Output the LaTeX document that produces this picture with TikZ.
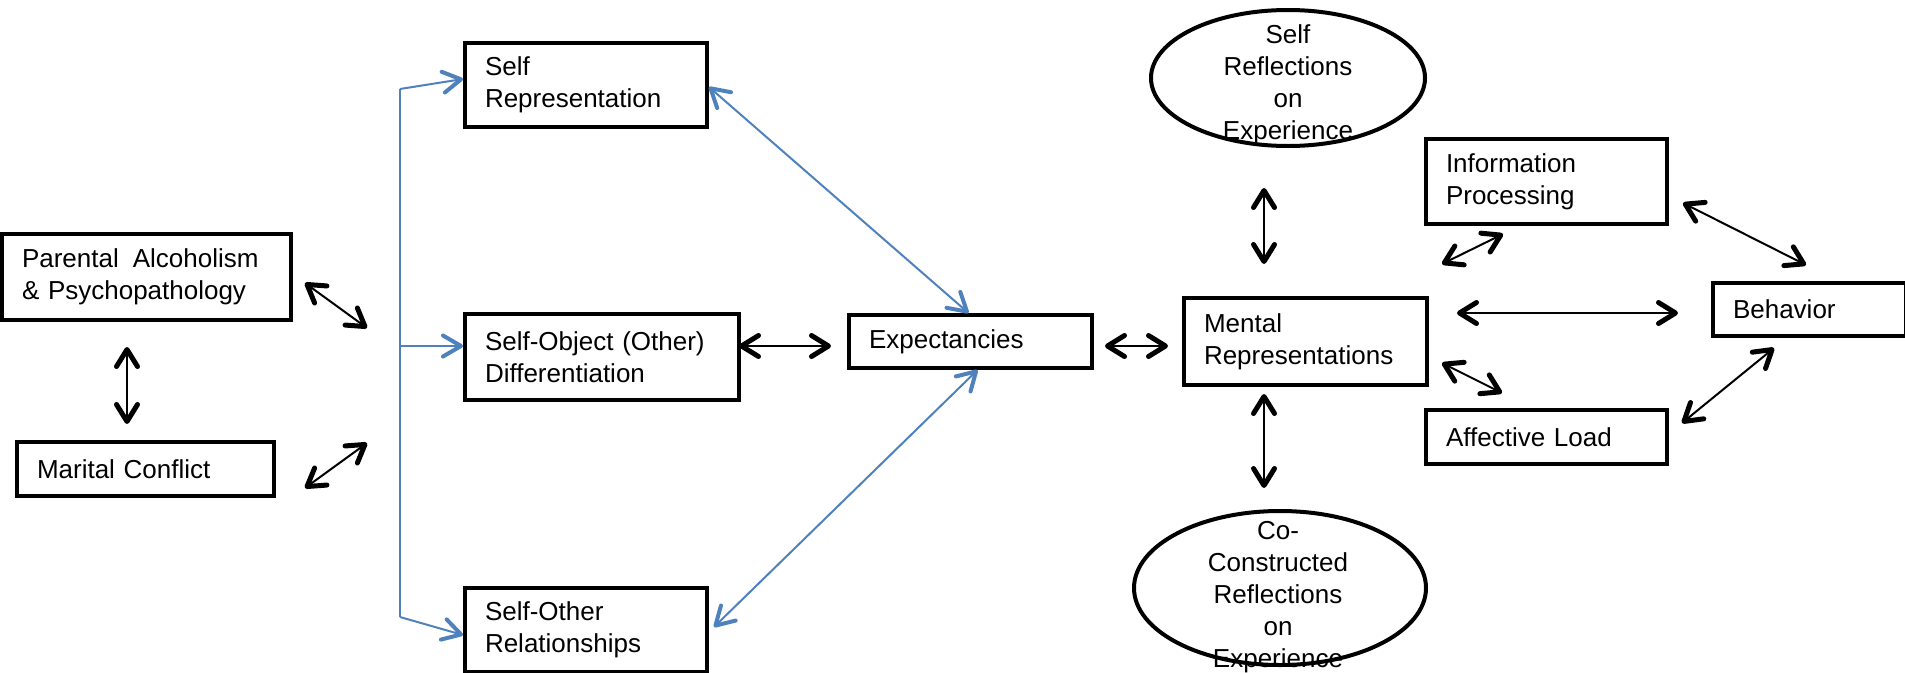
\documentclass[tikz,border=0pt]{standalone}
\usepackage{fontspec}
\setmainfont{Liberation Sans}
\usetikzlibrary{arrows.meta,shapes.geometric}
\definecolor{linkblue}{RGB}{79,129,189}
\begin{document}
\begin{tikzpicture}[x=1pt,y=-1pt,
  every node/.style={font=\fontsize{26}{32}\selectfont},
  box/.style={draw, line width=4pt, rectangle, anchor=north west,
    inner xsep=20pt, inner ysep=0pt, align=left},
  oval/.style={draw, line width=4pt, ellipse, inner sep=0pt},
  ovaltext/.style={align=center, inner sep=0pt},
  bkb/.tip={Straight Barb[length=17pt,width=21pt,line width=5pt,round]},
  blb/.tip={Straight Barb[length=18pt,width=21pt,line width=4pt,round]},
  dbl/.style={line width=2pt, bkb-bkb},
  blue line/.style={draw=linkblue, line width=2pt},
  blue arrow/.style={blue line, -blb},
  blue dbl/.style={blue line, blb-blb}]
\useasboundingbox (0,0) rectangle (1905,672);

% boxes
\node[box, minimum width=289pt, minimum height=86pt, text width=249pt] (pa) at (0,232)
  {Parental\hspace{14pt}Alcoholism\\\& Psychopathology};
\node[box, minimum width=257pt, minimum height=54pt, text width=217pt] (mc) at (15,440)
  {Marital Conflict};
\node[box, minimum width=242pt, minimum height=84pt, text width=202pt] (srep) at (463,41)
  {Self\\Representation};
\node[box, minimum width=274pt, minimum height=86pt, text width=234pt] (sobj) at (463,312)
  {Self-Object (Other)\\Differentiation};
\node[box, minimum width=242pt, minimum height=84pt, text width=202pt] (soth) at (463,586)
  {Self-Other\\Relationships};
\node[box, minimum width=243pt, minimum height=53pt, text width=203pt] (exp) at (847,313)
  {Expectancies};
\node[box, minimum width=243pt, minimum height=87pt, text width=203pt] (mrep) at (1182,296)
  {Mental\\Representations};
\node[box, minimum width=241pt, minimum height=85pt, text width=201pt] (info) at (1424,137)
  {Information\\Processing};
\node[box, minimum width=193pt, minimum height=53pt, text width=153pt] (beh) at (1711,281)
  {Behavior};
\node[box, minimum width=241pt, minimum height=54pt, text width=201pt] (aff) at (1424,408)
  {Affective Load};

% ellipses with their (overflowing) labels
\node[oval, minimum width=274pt, minimum height=136pt] (srefl) at (1288,78) {};
\node[ovaltext] (srefltext) at (1288,85) {Self\\Reflections\\on\\Experience};
\node[oval, minimum width=292pt, minimum height=154pt] (ccrefl) at (1280,588) {};
\node[ovaltext] (ccrefltext) at (1278,597) {Co-\\Constructed\\Reflections\\on\\Experience};

% free ends of the black connectors
\coordinate (a1s) at (305,283); \coordinate (a1e) at (367,328);
\coordinate (a2s) at (127,347); \coordinate (a2e) at (127,424);
\coordinate (a3s) at (305,488); \coordinate (a3e) at (367,443);
\coordinate (a4s) at (739,346); \coordinate (a4e) at (831,346);
\coordinate (a5s) at (1105,346); \coordinate (a5e) at (1168,346);
\coordinate (a6s) at (1264,188); \coordinate (a6e) at (1264,264);
\coordinate (a7s) at (1264,394); \coordinate (a7e) at (1264,488);
\coordinate (a8s) at (1442,264); \coordinate (a8e) at (1503,234);
\coordinate (a9s) at (1457,313); \coordinate (a9e) at (1678,313);
\coordinate (a10s) at (1442,363); \coordinate (a10e) at (1502,393);
\coordinate (a11s) at (1683,203); \coordinate (a11e) at (1806,265);
\coordinate (a12s) at (1682,423); \coordinate (a12e) at (1774,348);

\draw[dbl] (a1s) -- (a1e);
\draw[dbl] (a2s) -- (a2e);
\draw[dbl] (a3s) -- (a3e);
\draw[dbl] (a4s) -- (a4e);
\draw[dbl] (a5s) -- (a5e);
\draw[dbl] (a6s) -- (a6e);
\draw[dbl] (a7s) -- (a7e);
\draw[dbl] (a8s) -- (a8e);
\draw[dbl] (a9s) -- (a9e);
\draw[dbl] (a10s) -- (a10e);
\draw[dbl] (a11s) -- (a11e);
\draw[dbl] (a12s) -- (a12e);

% blue branching connector
\coordinate (btop) at (400,89);
\coordinate (bmid) at (400,346);
\coordinate (bbot) at (400,617);
\draw[blue line] (btop) -- (bbot);
\draw[blue arrow] (btop) -- ([yshift=6pt]srep.west);
\draw[blue arrow] (bmid) -- (463,346);
\draw[blue arrow] (bbot) -- ([yshift=-5pt]soth.west);

% blue links with Expectancies
\draw[blue dbl] ([yshift=-2pt]srep.east) -- ([xshift=-2pt]exp.north);
\draw[blue dbl] ([xshift=7pt]exp.south) -- ([xshift=5pt,yshift=3pt]soth.east);
\end{tikzpicture}
\end{document}
